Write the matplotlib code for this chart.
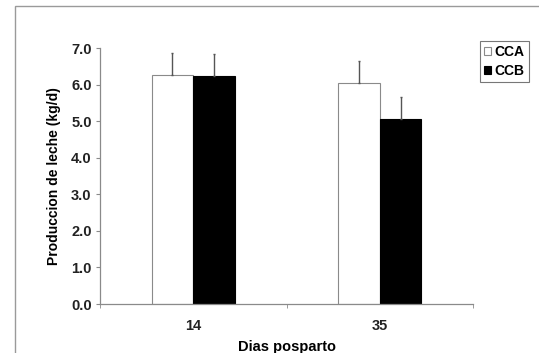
import matplotlib.pyplot as plt
import numpy as np
from matplotlib.patches import Rectangle

# data
dias = ['14', '35']
cca = [6.27, 6.05]
ccb = [6.24, 5.05]
cca_err = [0.60, 0.60]
ccb_err = [0.60, 0.60]

plt.rcParams['font.family'] = ['Liberation Sans', 'DejaVu Sans']

fig = plt.figure(figsize=(5.39, 3.53), dpi=100)
ax = fig.add_axes([0.1855, 0.1388, 0.6921, 0.7252])

x = np.arange(len(dias))
w = 0.223
gray = '#8a8a8a'

ax.bar(x - w / 2, cca, w, color='white', edgecolor=gray, linewidth=0.8, label='CCA',
       yerr=[np.zeros(2), cca_err], error_kw=dict(ecolor='#555555', elinewidth=1.0, capsize=1))
ax.bar(x + w / 2, ccb, w, color='black', edgecolor='black', linewidth=0.8, label='CCB',
       yerr=[np.zeros(2), ccb_err], error_kw=dict(ecolor='#555555', elinewidth=1.0, capsize=1))

ax.set_xlim(-0.5, 1.5)
ax.set_ylim(0, 7)
ax.set_yticks(np.arange(0, 7.1, 1.0))
ax.set_yticklabels([f'{v:.1f}' for v in np.arange(0, 7.1, 1.0)])
ax.set_xticks(x)
ax.set_xticklabels(dias)
ax.set_xticks([-0.5, 0.5, 1.5], minor=True)
ax.tick_params(axis='x', which='major', length=0, pad=11)
ax.tick_params(axis='x', which='minor', length=3, color=gray)
ax.tick_params(axis='y', length=3, color=gray, pad=3)
ax.tick_params(labelsize=10.5, labelcolor='#222222')
for lab in ax.get_xticklabels() + ax.get_yticklabels():
    lab.set_fontweight('bold')

for s in ['top', 'right']:
    ax.spines[s].set_visible(False)
for s in ['left', 'bottom']:
    ax.spines[s].set_color(gray)
    ax.spines[s].set_linewidth(0.9)

ax.set_xlabel('Dias posparto', fontsize=10.5, fontweight='bold', labelpad=5)
ax.set_ylabel('Produccion de leche (kg/d)', fontsize=10, fontweight='bold', labelpad=7)

leg = ax.legend(loc='upper left', bbox_to_anchor=(1.019, 1.027), fontsize=10,
                frameon=True, fancybox=False, edgecolor='#555555', handlelength=0.5,
                handleheight=0.5, handletextpad=0.25, borderpad=0.3, labelspacing=0.35,
                borderaxespad=0)
leg.get_frame().set_linewidth(0.8)
for t in leg.get_texts():
    t.set_fontweight('bold')

# outer chart frame (left and top edges)
fig.add_artist(Rectangle((15 / 539, -0.05), 1.2, 1 - 6 / 353 + 0.05, transform=fig.transFigure,
                         fill=False, edgecolor='#9a9a9a', linewidth=1.0))

fig.savefig('out.png', dpi=100)
